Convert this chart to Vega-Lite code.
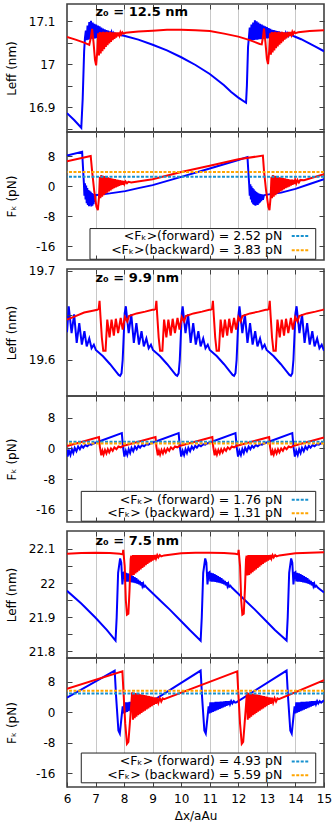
{
"$schema":"https://vega.github.io/schema/vega-lite/v6.json",
"padding":{"left":4,"top":2,"right":4,"bottom":2},
"datasets":{
"p1f":[{"x":6.0,"y":16.886},{"x":6.25,"y":16.870},{"x":6.5,"y":16.852},{"x":6.55,"y":16.92},{"x":6.6,"y":17.03},{"x":6.63,"y":17.062},
{"x":6.66,"y":17.078},{"x":6.69,"y":17.056},{"x":6.72,"y":17.09},{"x":6.75,"y":17.057},{"x":6.78,"y":17.098},{"x":6.81,"y":17.058},{"x":6.84,"y":17.101},{"x":6.87,"y":17.059},{"x":6.9,"y":17.097},{"x":6.93,"y":17.059},{"x":6.96,"y":17.094},{"x":6.99,"y":17.06},{"x":7.02,"y":17.092},{"x":7.05,"y":17.061},{"x":7.08,"y":17.09},{"x":7.11,"y":17.061},{"x":7.14,"y":17.088},{"x":7.17,"y":17.062},{"x":7.2,"y":17.085},{"x":7.23,"y":17.063},{"x":7.26,"y":17.083},{"x":7.29,"y":17.063},{"x":7.32,"y":17.081},{"x":7.35,"y":17.064},{"x":7.38,"y":17.079},{"x":7.41,"y":17.065},{"x":7.44,"y":17.078},{"x":7.47,"y":17.065},{"x":7.5,"y":17.076},{"x":7.53,"y":17.066},{"x":7.56,"y":17.074},{"x":7.59,"y":17.067},{"x":7.62,"y":17.072},{"x":7.65,"y":17.067},{"x":7.68,"y":17.071},{"x":7.71,"y":17.068},{"x":7.75,"y":17.069},
{"x":7.85,"y":17.068},{"x":8.0,"y":17.066},{"x":8.5,"y":17.057},{"x":9.0,"y":17.045},{"x":9.5,"y":17.032},{"x":10.0,"y":17.016},{"x":10.5,"y":16.998},{"x":11.0,"y":16.977},{"x":11.5,"y":16.951},{"x":11.75,"y":16.935},{"x":12.0,"y":16.922},{"x":12.27,"y":16.91},{"x":12.3,"y":16.95},{"x":12.34,"y":17.04},{"x":12.37,"y":17.062},
{"x":12.4,"y":17.085},{"x":12.43,"y":17.055},{"x":12.46,"y":17.092},{"x":12.49,"y":17.056},{"x":12.52,"y":17.097},{"x":12.55,"y":17.056},{"x":12.58,"y":17.102},{"x":12.61,"y":17.057},{"x":12.64,"y":17.1},{"x":12.67,"y":17.057},{"x":12.7,"y":17.097},{"x":12.73,"y":17.058},{"x":12.76,"y":17.094},{"x":12.79,"y":17.058},{"x":12.82,"y":17.092},{"x":12.85,"y":17.059},{"x":12.88,"y":17.09},{"x":12.91,"y":17.059},{"x":12.94,"y":17.088},{"x":12.97,"y":17.06},{"x":13.0,"y":17.086},{"x":13.03,"y":17.06},{"x":13.06,"y":17.084},{"x":13.09,"y":17.061},{"x":13.12,"y":17.082},{"x":13.15,"y":17.061},{"x":13.18,"y":17.08},{"x":13.21,"y":17.062},{"x":13.24,"y":17.079},{"x":13.27,"y":17.062},{"x":13.3,"y":17.078},{"x":13.33,"y":17.063},{"x":13.36,"y":17.077},{"x":13.39,"y":17.063},{"x":13.42,"y":17.076},{"x":13.45,"y":17.064},{"x":13.48,"y":17.075},{"x":13.51,"y":17.064},{"x":13.54,"y":17.074},{"x":13.57,"y":17.065},{"x":13.6,"y":17.073},{"x":13.63,"y":17.065},{"x":13.66,"y":17.072},{"x":13.69,"y":17.066},{"x":13.72,"y":17.071},{"x":13.75,"y":17.066},{"x":13.78,"y":17.07},{"x":13.81,"y":17.067},{"x":13.85,"y":17.068},
{"x":13.95,"y":17.065},{"x":14.2,"y":17.058},{"x":14.5,"y":17.048},{"x":14.75,"y":17.039},{"x":15.0,"y":17.03}],
"p1b":[{"x":6.0,"y":17.063},{"x":6.3,"y":17.057},{"x":6.6,"y":17.05},{"x":6.78,"y":17.045},{"x":6.83,"y":17.06},{"x":6.88,"y":17.082},{"x":6.93,"y":17.05},{"x":6.98,"y":17.01},{"x":7.02,"y":16.997},{"x":7.06,"y":17.03},{"x":7.09,"y":17.072},
{"x":7.12,"y":17.02},{"x":7.15,"y":17.075},{"x":7.18,"y":17.025},{"x":7.21,"y":17.074},{"x":7.24,"y":17.03},{"x":7.27,"y":17.075},{"x":7.3,"y":17.035},{"x":7.33,"y":17.074},{"x":7.36,"y":17.04},{"x":7.39,"y":17.075},{"x":7.42,"y":17.044},{"x":7.45,"y":17.074},{"x":7.48,"y":17.048},{"x":7.51,"y":17.075},{"x":7.54,"y":17.052},{"x":7.57,"y":17.074},{"x":7.6,"y":17.056},{"x":7.63,"y":17.074},{"x":7.66,"y":17.059},{"x":7.69,"y":17.074},{"x":7.72,"y":17.062},{"x":7.75,"y":17.074},{"x":7.78,"y":17.065},{"x":7.81,"y":17.074},{"x":7.84,"y":17.067},{"x":7.87,"y":17.074},{"x":7.9,"y":17.069},{"x":7.94,"y":17.074},{"x":7.98,"y":17.071},
{"x":8.05,"y":17.073},{"x":8.5,"y":17.076},{"x":9.0,"y":17.078},{"x":9.5,"y":17.08},{"x":10.0,"y":17.08},{"x":10.5,"y":17.079},{"x":11.0,"y":17.077},{"x":11.5,"y":17.071},{"x":12.0,"y":17.064},{"x":12.4,"y":17.056},{"x":12.75,"y":17.047},{"x":12.82,"y":17.046},{"x":12.86,"y":17.062},{"x":12.9,"y":17.083},{"x":12.95,"y":17.05},{"x":13.0,"y":17.012},{"x":13.04,"y":17.0},{"x":13.08,"y":17.03},{"x":13.11,"y":17.072},
{"x":13.14,"y":17.022},{"x":13.17,"y":17.075},{"x":13.2,"y":17.027},{"x":13.23,"y":17.074},{"x":13.26,"y":17.032},{"x":13.29,"y":17.075},{"x":13.32,"y":17.037},{"x":13.35,"y":17.074},{"x":13.38,"y":17.041},{"x":13.41,"y":17.075},{"x":13.44,"y":17.045},{"x":13.47,"y":17.074},{"x":13.5,"y":17.049},{"x":13.53,"y":17.075},{"x":13.56,"y":17.053},{"x":13.59,"y":17.074},{"x":13.62,"y":17.057},{"x":13.65,"y":17.074},{"x":13.68,"y":17.06},{"x":13.71,"y":17.074},{"x":13.74,"y":17.063},{"x":13.77,"y":17.075},{"x":13.8,"y":17.066},{"x":13.83,"y":17.075},{"x":13.86,"y":17.068},{"x":13.89,"y":17.075},{"x":13.92,"y":17.07},{"x":13.96,"y":17.075},{"x":14.0,"y":17.072},
{"x":14.1,"y":17.074},{"x":14.5,"y":17.077},{"x":15.0,"y":17.079}],
"p2f":[{"x":6.0,"y":8.2},{"x":6.53,"y":9.2},{"x":6.56,"y":5.0},{"x":6.59,"y":1.0},
{"x":6.61,"y":-2.5},{"x":6.63,"y":0.8},{"x":6.65,"y":-3.5},{"x":6.67,"y":0.2},{"x":6.69,"y":-4.5},{"x":6.71,"y":-0.5},{"x":6.73,"y":-5.0},{"x":6.75,"y":-1.0},{"x":6.77,"y":-5.3},{"x":6.79,"y":-1.2},{"x":6.81,"y":-5.0},{"x":6.83,"y":-1.5},{"x":6.85,"y":-5.4},{"x":6.87,"y":-1.8},{"x":6.89,"y":-5.2},{"x":6.91,"y":-2.0},{"x":6.93,"y":-4.8},{"x":6.95,"y":-2.2},{"x":6.97,"y":-4.2},{"x":7.0,"y":-2.3},
{"x":7.05,"y":-2.3},{"x":7.5,"y":-1.9},{"x":8.04,"y":-1.3},{"x":8.5,"y":-0.5},{"x":9.0,"y":0.3},{"x":10.0,"y":2.5},{"x":11.0,"y":4.75},{"x":12.0,"y":7.0},{"x":12.32,"y":7.8},{"x":12.35,"y":4.0},{"x":12.38,"y":0.5},
{"x":12.4,"y":-2.5},{"x":12.42,"y":0.5},{"x":12.44,"y":-3.5},{"x":12.46,"y":0.0},{"x":12.48,"y":-4.3},{"x":12.5,"y":-0.5},{"x":12.52,"y":-4.8},{"x":12.54,"y":-0.8},{"x":12.56,"y":-5.0},{"x":12.58,"y":-1.2},{"x":12.6,"y":-5.2},{"x":12.62,"y":-1.5},{"x":12.64,"y":-4.9},{"x":12.66,"y":-1.7},{"x":12.68,"y":-5.0},{"x":12.7,"y":-1.9},{"x":12.72,"y":-4.6},{"x":12.74,"y":-2.0},{"x":12.76,"y":-4.3},{"x":12.78,"y":-2.1},{"x":12.8,"y":-4.0},{"x":12.83,"y":-2.2},{"x":12.86,"y":-3.6},{"x":12.9,"y":-2.4},
{"x":12.95,"y":-2.3},{"x":13.5,"y":-1.7},{"x":14.0,"y":-0.7},{"x":14.5,"y":0.6},{"x":15.0,"y":1.9}],
"p2b":[{"x":6.0,"y":6.7},{"x":6.83,"y":8.1},{"x":6.88,"y":4.0},{"x":6.95,"y":-1.0},{"x":7.03,"y":-5.5},{"x":7.08,"y":-6.4},{"x":7.12,"y":-3.0},{"x":7.15,"y":2.5},
{"x":7.17,"y":-3.2},{"x":7.2,"y":3.0},{"x":7.23,"y":-2.8},{"x":7.26,"y":2.8},{"x":7.29,"y":-2.4},{"x":7.32,"y":2.7},{"x":7.35,"y":-2.0},{"x":7.38,"y":2.5},{"x":7.41,"y":-1.7},{"x":7.44,"y":2.4},{"x":7.47,"y":-1.4},{"x":7.5,"y":2.2},{"x":7.53,"y":-1.1},{"x":7.56,"y":2.1},{"x":7.59,"y":-0.8},{"x":7.62,"y":2.0},{"x":7.65,"y":-0.5},{"x":7.68,"y":1.9},{"x":7.71,"y":-0.3},{"x":7.74,"y":1.8},{"x":7.77,"y":-0.1},{"x":7.8,"y":1.7},{"x":7.83,"y":0.1},{"x":7.86,"y":1.6},{"x":7.89,"y":0.3},{"x":7.92,"y":1.5},{"x":7.95,"y":0.4},{"x":7.98,"y":1.4},{"x":8.01,"y":0.6},{"x":8.05,"y":1.3},{"x":8.1,"y":0.8},{"x":8.15,"y":1.2},
{"x":8.25,"y":1.0},{"x":9.0,"y":1.9},{"x":10.0,"y":3.8},{"x":11.0,"y":5.5},{"x":12.0,"y":7.2},{"x":12.86,"y":8.2},{"x":12.9,"y":4.0},{"x":12.97,"y":-1.0},{"x":13.05,"y":-5.5},{"x":13.09,"y":-6.4},{"x":13.13,"y":-3.0},{"x":13.16,"y":2.5},
{"x":13.18,"y":-3.2},{"x":13.21,"y":3.0},{"x":13.24,"y":-2.8},{"x":13.27,"y":2.8},{"x":13.3,"y":-2.4},{"x":13.33,"y":2.7},{"x":13.36,"y":-2.0},{"x":13.39,"y":2.5},{"x":13.42,"y":-1.7},{"x":13.45,"y":2.4},{"x":13.48,"y":-1.4},{"x":13.51,"y":2.3},{"x":13.54,"y":-1.1},{"x":13.57,"y":2.2},{"x":13.6,"y":-0.8},{"x":13.63,"y":2.1},{"x":13.66,"y":-0.5},{"x":13.69,"y":2.0},{"x":13.72,"y":-0.3},{"x":13.75,"y":1.9},{"x":13.78,"y":-0.1},{"x":13.81,"y":1.8},{"x":13.84,"y":0.2},{"x":13.87,"y":1.8},{"x":13.9,"y":0.4},{"x":13.93,"y":1.7},{"x":13.96,"y":0.6},{"x":13.99,"y":1.7},{"x":14.03,"y":0.8},{"x":14.07,"y":1.7},{"x":14.12,"y":1.0},{"x":14.17,"y":1.7},
{"x":14.3,"y":1.6},{"x":15.0,"y":3.2}],
"p3f":[{"x":6.0,"y":19.631},{"x":6.03,"y":19.645},
{"x":6.06,"y":19.66},{"x":6.16,"y":19.63},{"x":6.25,"y":19.651},{"x":6.34,"y":19.619},{"x":6.43,"y":19.641},{"x":6.52,"y":19.617},{"x":6.61,"y":19.632},{"x":6.69,"y":19.615},{"x":6.78,"y":19.624},{"x":6.86,"y":19.613},{"x":6.94,"y":19.617},{"x":7.01,"y":19.611},{"x":7.26,"y":19.604},{"x":7.51,"y":19.595},{"x":7.71,"y":19.587},{"x":7.81,"y":19.583},{"x":7.86,"y":19.582},{"x":7.91,"y":19.585},{"x":7.95,"y":19.6},{"x":7.99,"y":19.63},{"x":8.02,"y":19.652},
{"x":8.06,"y":19.66},{"x":8.16,"y":19.63},{"x":8.25,"y":19.651},{"x":8.34,"y":19.619},{"x":8.43,"y":19.641},{"x":8.52,"y":19.617},{"x":8.61,"y":19.632},{"x":8.69,"y":19.615},{"x":8.78,"y":19.624},{"x":8.86,"y":19.613},{"x":8.94,"y":19.617},{"x":9.01,"y":19.611},{"x":9.26,"y":19.604},{"x":9.51,"y":19.595},{"x":9.71,"y":19.587},{"x":9.81,"y":19.583},{"x":9.86,"y":19.582},{"x":9.91,"y":19.585},{"x":9.95,"y":19.6},{"x":9.99,"y":19.63},{"x":10.02,"y":19.652},
{"x":10.05,"y":19.66},{"x":10.15,"y":19.63},{"x":10.24,"y":19.651},{"x":10.33,"y":19.619},{"x":10.42,"y":19.641},{"x":10.51,"y":19.617},{"x":10.6,"y":19.632},{"x":10.68,"y":19.615},{"x":10.77,"y":19.624},{"x":10.85,"y":19.613},{"x":10.93,"y":19.617},{"x":11.0,"y":19.611},{"x":11.25,"y":19.604},{"x":11.5,"y":19.595},{"x":11.7,"y":19.587},{"x":11.8,"y":19.583},{"x":11.85,"y":19.582},{"x":11.9,"y":19.585},{"x":11.94,"y":19.6},{"x":11.98,"y":19.63},{"x":12.01,"y":19.652},
{"x":12.04,"y":19.66},{"x":12.14,"y":19.63},{"x":12.23,"y":19.651},{"x":12.32,"y":19.619},{"x":12.41,"y":19.641},{"x":12.5,"y":19.617},{"x":12.59,"y":19.632},{"x":12.67,"y":19.615},{"x":12.76,"y":19.624},{"x":12.84,"y":19.613},{"x":12.92,"y":19.617},{"x":12.99,"y":19.611},{"x":13.24,"y":19.604},{"x":13.49,"y":19.595},{"x":13.69,"y":19.587},{"x":13.79,"y":19.583},{"x":13.84,"y":19.582},{"x":13.89,"y":19.585},{"x":13.93,"y":19.6},{"x":13.97,"y":19.63},{"x":14.0,"y":19.652},
{"x":14.04,"y":19.66},{"x":14.14,"y":19.63},{"x":14.23,"y":19.651},{"x":14.32,"y":19.619},{"x":14.41,"y":19.641},{"x":14.5,"y":19.617},{"x":14.59,"y":19.632},{"x":14.67,"y":19.615},{"x":14.76,"y":19.624},{"x":14.84,"y":19.613},{"x":14.92,"y":19.617},{"x":14.99,"y":19.611},{"x":15.0,"y":19.611}],
"p3b":[{"x":6.0,"y":19.645},{"x":6.3,"y":19.649},{"x":6.6,"y":19.653},{"x":6.9,"y":19.655},
{"x":7.06,"y":19.656},{"x":7.11,"y":19.657},{"x":7.14,"y":19.666},{"x":7.17,"y":19.65},{"x":7.22,"y":19.625},{"x":7.27,"y":19.61},{"x":7.35,"y":19.61},{"x":7.41,"y":19.645},{"x":7.49,"y":19.625},{"x":7.56,"y":19.645},{"x":7.64,"y":19.627},{"x":7.71,"y":19.646},{"x":7.79,"y":19.63},{"x":7.88,"y":19.647},{"x":7.95,"y":19.634},{"x":8.03,"y":19.648},{"x":8.11,"y":19.643},{"x":8.17,"y":19.649},{"x":8.44,"y":19.652},{"x":8.74,"y":19.654},{"x":8.99,"y":19.656},
{"x":9.05,"y":19.656},{"x":9.1,"y":19.657},{"x":9.13,"y":19.666},{"x":9.16,"y":19.65},{"x":9.21,"y":19.625},{"x":9.26,"y":19.61},{"x":9.34,"y":19.61},{"x":9.4,"y":19.645},{"x":9.48,"y":19.625},{"x":9.55,"y":19.645},{"x":9.63,"y":19.627},{"x":9.7,"y":19.646},{"x":9.78,"y":19.63},{"x":9.87,"y":19.647},{"x":9.94,"y":19.634},{"x":10.02,"y":19.648},{"x":10.1,"y":19.643},{"x":10.16,"y":19.649},{"x":10.43,"y":19.652},{"x":10.73,"y":19.654},{"x":10.98,"y":19.656},
{"x":11.03,"y":19.656},{"x":11.08,"y":19.657},{"x":11.11,"y":19.666},{"x":11.14,"y":19.65},{"x":11.19,"y":19.625},{"x":11.24,"y":19.61},{"x":11.32,"y":19.61},{"x":11.38,"y":19.645},{"x":11.46,"y":19.625},{"x":11.53,"y":19.645},{"x":11.61,"y":19.627},{"x":11.68,"y":19.646},{"x":11.76,"y":19.63},{"x":11.85,"y":19.647},{"x":11.92,"y":19.634},{"x":12.0,"y":19.648},{"x":12.08,"y":19.643},{"x":12.14,"y":19.649},{"x":12.41,"y":19.652},{"x":12.71,"y":19.654},{"x":12.96,"y":19.656},
{"x":13.02,"y":19.656},{"x":13.07,"y":19.657},{"x":13.1,"y":19.666},{"x":13.13,"y":19.65},{"x":13.18,"y":19.625},{"x":13.23,"y":19.61},{"x":13.31,"y":19.61},{"x":13.37,"y":19.645},{"x":13.45,"y":19.625},{"x":13.52,"y":19.645},{"x":13.6,"y":19.627},{"x":13.67,"y":19.646},{"x":13.75,"y":19.63},{"x":13.84,"y":19.647},{"x":13.91,"y":19.634},{"x":13.99,"y":19.648},{"x":14.07,"y":19.643},{"x":14.13,"y":19.649},{"x":14.4,"y":19.652},{"x":14.7,"y":19.654},{"x":14.95,"y":19.656},{"x":15.0,"y":19.6565}],
"p4f":[{"x":6.0,"y":-0.4},{"x":6.02,"y":-2.1},{"x":6.07,"y":-0.6},{"x":6.12,"y":-1.7},{"x":6.17,"y":-0.2},{"x":6.22,"y":-1.2},{"x":6.27,"y":0.2},{"x":6.33,"y":-0.7},{"x":6.39,"y":0.5},{"x":6.45,"y":-0.2},{"x":6.51,"y":0.7},{"x":6.57,"y":0.2},{"x":6.64,"y":0.9},{"x":6.71,"y":0.6},{"x":6.79,"y":1.1},{"x":6.86,"y":1.0},{"x":6.93,"y":1.3},
{"x":7.92,"y":4.0},{"x":7.96,"y":0.5},{"x":8.01,"y":-2.1},{"x":8.06,"y":-0.6},{"x":8.11,"y":-1.7},{"x":8.16,"y":-0.2},{"x":8.21,"y":-1.2},{"x":8.26,"y":0.2},{"x":8.32,"y":-0.7},{"x":8.38,"y":0.5},{"x":8.44,"y":-0.2},{"x":8.5,"y":0.7},{"x":8.56,"y":0.2},{"x":8.63,"y":0.9},{"x":8.7,"y":0.6},{"x":8.78,"y":1.1},{"x":8.85,"y":1.0},{"x":8.92,"y":1.3},
{"x":9.91,"y":4.0},{"x":9.95,"y":0.5},{"x":10.0,"y":-2.1},{"x":10.05,"y":-0.6},{"x":10.1,"y":-1.7},{"x":10.15,"y":-0.2},{"x":10.2,"y":-1.2},{"x":10.25,"y":0.2},{"x":10.31,"y":-0.7},{"x":10.37,"y":0.5},{"x":10.43,"y":-0.2},{"x":10.49,"y":0.7},{"x":10.55,"y":0.2},{"x":10.62,"y":0.9},{"x":10.69,"y":0.6},{"x":10.77,"y":1.1},{"x":10.84,"y":1.0},{"x":10.91,"y":1.3},
{"x":11.9,"y":4.0},{"x":11.94,"y":0.5},{"x":11.99,"y":-2.1},{"x":12.04,"y":-0.6},{"x":12.09,"y":-1.7},{"x":12.14,"y":-0.2},{"x":12.19,"y":-1.2},{"x":12.24,"y":0.2},{"x":12.3,"y":-0.7},{"x":12.36,"y":0.5},{"x":12.42,"y":-0.2},{"x":12.48,"y":0.7},{"x":12.54,"y":0.2},{"x":12.61,"y":0.9},{"x":12.68,"y":0.6},{"x":12.76,"y":1.1},{"x":12.83,"y":1.0},{"x":12.9,"y":1.3},
{"x":13.89,"y":4.0},{"x":13.93,"y":0.5},{"x":13.98,"y":-2.1},{"x":14.03,"y":-0.6},{"x":14.08,"y":-1.7},{"x":14.13,"y":-0.2},{"x":14.18,"y":-1.2},{"x":14.23,"y":0.2},{"x":14.29,"y":-0.7},{"x":14.35,"y":0.5},{"x":14.41,"y":-0.2},{"x":14.47,"y":0.7},{"x":14.53,"y":0.2},{"x":14.6,"y":0.9},{"x":14.67,"y":0.6},{"x":14.75,"y":1.1},{"x":14.82,"y":1.0},{"x":14.89,"y":1.3},{"x":15.0,"y":1.6}],
"p4b":[{"x":6.0,"y":0.65},
{"x":7.12,"y":3.0},{"x":7.15,"y":0.5},{"x":7.2,"y":-1.8},{"x":7.24,"y":-0.6},{"x":7.28,"y":-1.6},{"x":7.33,"y":-0.4},{"x":7.38,"y":-1.3},{"x":7.43,"y":-0.2},{"x":7.48,"y":-1.0},{"x":7.54,"y":0.0},{"x":7.6,"y":-0.6},{"x":7.66,"y":0.3},{"x":7.73,"y":-0.2},{"x":7.8,"y":0.5},{"x":7.88,"y":0.3},{"x":7.97,"y":0.7},{"x":8.05,"y":0.85},
{"x":9.1,"y":3.0},{"x":9.13,"y":0.5},{"x":9.18,"y":-1.8},{"x":9.22,"y":-0.6},{"x":9.26,"y":-1.6},{"x":9.31,"y":-0.4},{"x":9.36,"y":-1.3},{"x":9.41,"y":-0.2},{"x":9.46,"y":-1.0},{"x":9.52,"y":0.0},{"x":9.58,"y":-0.6},{"x":9.64,"y":0.3},{"x":9.71,"y":-0.2},{"x":9.78,"y":0.5},{"x":9.86,"y":0.3},{"x":9.95,"y":0.7},{"x":10.03,"y":0.85},
{"x":11.09,"y":3.0},{"x":11.12,"y":0.5},{"x":11.17,"y":-1.8},{"x":11.21,"y":-0.6},{"x":11.25,"y":-1.6},{"x":11.3,"y":-0.4},{"x":11.35,"y":-1.3},{"x":11.4,"y":-0.2},{"x":11.45,"y":-1.0},{"x":11.51,"y":0.0},{"x":11.57,"y":-0.6},{"x":11.63,"y":0.3},{"x":11.7,"y":-0.2},{"x":11.77,"y":0.5},{"x":11.85,"y":0.3},{"x":11.94,"y":0.7},{"x":12.02,"y":0.85},
{"x":13.08,"y":3.0},{"x":13.11,"y":0.5},{"x":13.16,"y":-1.8},{"x":13.2,"y":-0.6},{"x":13.24,"y":-1.6},{"x":13.29,"y":-0.4},{"x":13.34,"y":-1.3},{"x":13.39,"y":-0.2},{"x":13.44,"y":-1.0},{"x":13.5,"y":0.0},{"x":13.56,"y":-0.6},{"x":13.62,"y":0.3},{"x":13.69,"y":-0.2},{"x":13.76,"y":0.5},{"x":13.84,"y":0.3},{"x":13.93,"y":0.7},{"x":14.01,"y":0.85},{"x":15.0,"y":2.85}],
"p5f":[{"x":6.0,"y":21.977},{"x":6.5,"y":21.94},{"x":7.0,"y":21.898},{"x":7.4,"y":21.862},
{"x":7.7,"y":21.831},{"x":7.74,"y":21.9},{"x":7.79,"y":22.03},{"x":7.86,"y":22.072},{"x":7.9,"y":22.06},{"x":7.94,"y":21.996},{"x":7.98,"y":22.03},{"x":8.01,"y":22.032},{"x":8.04,"y":22.005},{"x":8.07,"y":22.03},{"x":8.1,"y":22.004},{"x":8.13,"y":22.028},{"x":8.16,"y":22.004},{"x":8.19,"y":22.026},{"x":8.22,"y":22.003},{"x":8.25,"y":22.023},{"x":8.28,"y":22.002},{"x":8.31,"y":22.02},{"x":8.34,"y":22.001},{"x":8.37,"y":22.017},{"x":8.4,"y":22.0},{"x":8.43,"y":22.014},{"x":8.46,"y":21.998},{"x":8.49,"y":22.01},{"x":8.52,"y":21.996},{"x":8.55,"y":22.006},{"x":8.58,"y":21.993},{"x":8.61,"y":22.002},{"x":8.64,"y":21.991},{"x":8.67,"y":21.998},{"x":8.7,"y":21.989},{"x":8.74,"y":21.992},{"x":8.8,"y":21.986},{"x":9.0,"y":21.97},{"x":9.3,"y":21.946},{"x":9.6,"y":21.922},{"x":10.0,"y":21.888},{"x":10.3,"y":21.862},
{"x":10.68,"y":21.831},{"x":10.72,"y":21.9},{"x":10.77,"y":22.03},{"x":10.84,"y":22.072},{"x":10.88,"y":22.06},{"x":10.92,"y":21.996},{"x":10.96,"y":22.03},{"x":10.99,"y":22.032},{"x":11.02,"y":22.005},{"x":11.05,"y":22.03},{"x":11.08,"y":22.004},{"x":11.11,"y":22.028},{"x":11.14,"y":22.004},{"x":11.17,"y":22.026},{"x":11.2,"y":22.003},{"x":11.23,"y":22.023},{"x":11.26,"y":22.002},{"x":11.29,"y":22.02},{"x":11.32,"y":22.001},{"x":11.35,"y":22.017},{"x":11.38,"y":22.0},{"x":11.41,"y":22.014},{"x":11.44,"y":21.998},{"x":11.47,"y":22.01},{"x":11.5,"y":21.996},{"x":11.53,"y":22.006},{"x":11.56,"y":21.993},{"x":11.59,"y":22.002},{"x":11.62,"y":21.991},{"x":11.65,"y":21.998},{"x":11.68,"y":21.989},{"x":11.72,"y":21.992},{"x":11.78,"y":21.986},{"x":11.98,"y":21.97},{"x":12.28,"y":21.946},{"x":12.58,"y":21.922},{"x":12.98,"y":21.888},{"x":13.28,"y":21.862},
{"x":13.69,"y":21.831},{"x":13.73,"y":21.9},{"x":13.78,"y":22.03},{"x":13.85,"y":22.072},{"x":13.89,"y":22.06},{"x":13.93,"y":21.996},{"x":13.97,"y":22.03},{"x":14.0,"y":22.032},{"x":14.03,"y":22.005},{"x":14.06,"y":22.03},{"x":14.09,"y":22.004},{"x":14.12,"y":22.028},{"x":14.15,"y":22.004},{"x":14.18,"y":22.026},{"x":14.21,"y":22.003},{"x":14.24,"y":22.023},{"x":14.27,"y":22.002},{"x":14.3,"y":22.02},{"x":14.33,"y":22.001},{"x":14.36,"y":22.017},{"x":14.39,"y":22.0},{"x":14.42,"y":22.014},{"x":14.45,"y":21.998},{"x":14.48,"y":22.01},{"x":14.51,"y":21.996},{"x":14.54,"y":22.006},{"x":14.57,"y":21.993},{"x":14.6,"y":22.002},{"x":14.63,"y":21.991},{"x":14.66,"y":21.998},{"x":14.69,"y":21.989},{"x":14.73,"y":21.992},{"x":14.79,"y":21.986},{"x":15.0,"y":21.972}],
"p5b":[{"x":6.0,"y":22.086},{"x":6.5,"y":22.088},{"x":7.0,"y":22.089},{"x":7.5,"y":22.088},{"x":7.85,"y":22.086},{"x":7.95,"y":22.084},{"x":7.97,"y":22.097},{"x":8.02,"y":22.05},{"x":8.06,"y":21.95},{"x":8.1,"y":21.907},{"x":8.15,"y":21.91},{"x":8.19,"y":21.98},{"x":8.23,"y":22.07},
{"x":8.25,"y":22.08},{"x":8.28,"y":22.022},{"x":8.31,"y":22.082},{"x":8.34,"y":22.024},{"x":8.37,"y":22.082},{"x":8.4,"y":22.028},{"x":8.43,"y":22.082},{"x":8.46,"y":22.032},{"x":8.49,"y":22.082},{"x":8.52,"y":22.036},{"x":8.55,"y":22.082},{"x":8.58,"y":22.04},{"x":8.61,"y":22.082},{"x":8.64,"y":22.044},{"x":8.67,"y":22.082},{"x":8.7,"y":22.048},{"x":8.73,"y":22.082},{"x":8.76,"y":22.052},{"x":8.79,"y":22.082},{"x":8.82,"y":22.056},{"x":8.85,"y":22.082},{"x":8.88,"y":22.06},{"x":8.91,"y":22.082},{"x":8.94,"y":22.063},{"x":8.97,"y":22.082},{"x":9.0,"y":22.066},{"x":9.03,"y":22.082},{"x":9.06,"y":22.069},{"x":9.09,"y":22.082},{"x":9.12,"y":22.072},{"x":9.16,"y":22.082},{"x":9.2,"y":22.075},{"x":9.25,"y":22.082},{"x":9.3,"y":22.078},
{"x":9.4,"y":22.081},{"x":10.0,"y":22.087},{"x":10.5,"y":22.089},{"x":11.0,"y":22.089},{"x":11.5,"y":22.088},{"x":11.89,"y":22.086},{"x":11.99,"y":22.084},{"x":12.01,"y":22.097},{"x":12.06,"y":22.05},{"x":12.1,"y":21.95},{"x":12.14,"y":21.907},{"x":12.19,"y":21.91},{"x":12.23,"y":21.98},{"x":12.27,"y":22.07},
{"x":12.29,"y":22.08},{"x":12.32,"y":22.022},{"x":12.35,"y":22.082},{"x":12.38,"y":22.024},{"x":12.41,"y":22.082},{"x":12.44,"y":22.028},{"x":12.47,"y":22.082},{"x":12.5,"y":22.032},{"x":12.53,"y":22.082},{"x":12.56,"y":22.036},{"x":12.59,"y":22.082},{"x":12.62,"y":22.04},{"x":12.65,"y":22.082},{"x":12.68,"y":22.044},{"x":12.71,"y":22.082},{"x":12.74,"y":22.048},{"x":12.77,"y":22.082},{"x":12.8,"y":22.052},{"x":12.83,"y":22.082},{"x":12.86,"y":22.056},{"x":12.89,"y":22.082},{"x":12.92,"y":22.06},{"x":12.95,"y":22.082},{"x":12.98,"y":22.063},{"x":13.01,"y":22.082},{"x":13.04,"y":22.066},{"x":13.07,"y":22.082},{"x":13.1,"y":22.069},{"x":13.13,"y":22.082},{"x":13.16,"y":22.072},{"x":13.2,"y":22.082},{"x":13.24,"y":22.075},{"x":13.29,"y":22.082},{"x":13.34,"y":22.078},
{"x":13.44,"y":22.081},{"x":14.0,"y":22.087},{"x":14.5,"y":22.089},{"x":15.0,"y":22.09}],
"p6f":[{"x":6.0,"y":3.8},{"x":7.67,"y":10.9},{"x":7.72,"y":4.0},{"x":7.8,"y":-4.8},{"x":7.85,"y":-5.6},{"x":7.9,"y":-2.0},{"x":7.95,"y":1.5},
{"x":7.98,"y":-0.3},{"x":8.01,"y":2.6},{"x":8.04,"y":-0.1},{"x":8.07,"y":2.6},{"x":8.1,"y":0.1},{"x":8.13,"y":2.6},{"x":8.16,"y":0.3},{"x":8.19,"y":2.7},{"x":8.22,"y":0.5},{"x":8.25,"y":2.7},{"x":8.28,"y":0.7},{"x":8.31,"y":2.7},{"x":8.34,"y":0.9},{"x":8.37,"y":2.8},{"x":8.4,"y":1.1},{"x":8.43,"y":2.8},{"x":8.46,"y":1.3},{"x":8.49,"y":2.8},{"x":8.52,"y":1.5},{"x":8.55,"y":2.9},{"x":8.58,"y":1.7},{"x":8.61,"y":2.9},{"x":8.64,"y":1.9},{"x":8.67,"y":2.9},{"x":8.7,"y":2.1},{"x":8.74,"y":2.9},{"x":8.78,"y":2.3},{"x":8.83,"y":2.9},{"x":8.88,"y":2.5},
{"x":8.92,"y":2.6},{"x":10.68,"y":10.9},{"x":10.73,"y":4.0},{"x":10.81,"y":-4.8},{"x":10.86,"y":-5.6},{"x":10.91,"y":-2.0},{"x":10.96,"y":1.5},
{"x":10.99,"y":-0.3},{"x":11.02,"y":2.6},{"x":11.05,"y":-0.1},{"x":11.08,"y":2.6},{"x":11.11,"y":0.1},{"x":11.14,"y":2.6},{"x":11.17,"y":0.3},{"x":11.2,"y":2.7},{"x":11.23,"y":0.5},{"x":11.26,"y":2.7},{"x":11.29,"y":0.7},{"x":11.32,"y":2.7},{"x":11.35,"y":0.9},{"x":11.38,"y":2.8},{"x":11.41,"y":1.1},{"x":11.44,"y":2.8},{"x":11.47,"y":1.3},{"x":11.5,"y":2.8},{"x":11.53,"y":1.5},{"x":11.56,"y":2.9},{"x":11.59,"y":1.7},{"x":11.62,"y":2.9},{"x":11.65,"y":1.9},{"x":11.68,"y":2.9},{"x":11.71,"y":2.1},{"x":11.75,"y":2.9},{"x":11.79,"y":2.3},{"x":11.84,"y":2.9},{"x":11.89,"y":2.5},
{"x":11.93,"y":2.6},{"x":13.69,"y":10.9},{"x":13.74,"y":4.0},{"x":13.82,"y":-4.8},{"x":13.87,"y":-5.6},{"x":13.92,"y":-2.0},{"x":13.97,"y":1.5},
{"x":14.0,"y":-0.3},{"x":14.03,"y":2.6},{"x":14.06,"y":-0.1},{"x":14.09,"y":2.6},{"x":14.12,"y":0.1},{"x":14.15,"y":2.6},{"x":14.18,"y":0.3},{"x":14.21,"y":2.7},{"x":14.24,"y":0.5},{"x":14.27,"y":2.7},{"x":14.3,"y":0.7},{"x":14.33,"y":2.7},{"x":14.36,"y":0.9},{"x":14.39,"y":2.8},{"x":14.42,"y":1.1},{"x":14.45,"y":2.8},{"x":14.48,"y":1.3},{"x":14.51,"y":2.8},{"x":14.54,"y":1.5},{"x":14.57,"y":2.9},{"x":14.6,"y":1.7},{"x":14.63,"y":2.9},{"x":14.66,"y":1.9},{"x":14.69,"y":2.9},{"x":14.72,"y":2.1},{"x":14.76,"y":2.9},{"x":14.8,"y":2.3},{"x":14.85,"y":2.9},{"x":14.9,"y":2.5},{"x":15.0,"y":3.1}],
"p6b":[{"x":6.0,"y":6.1},{"x":7.94,"y":10.7},{"x":7.98,"y":5.0},{"x":8.04,"y":-3.0},{"x":8.1,"y":-8.3},{"x":8.15,"y":-7.8},{"x":8.2,"y":-3.0},{"x":8.25,"y":2.0},
{"x":8.28,"y":5.2},{"x":8.31,"y":-2.0},{"x":8.34,"y":5.1},{"x":8.37,"y":-1.6},{"x":8.4,"y":5.0},{"x":8.43,"y":-1.2},{"x":8.46,"y":4.9},{"x":8.49,"y":-0.8},{"x":8.52,"y":4.8},{"x":8.55,"y":-0.5},{"x":8.58,"y":4.7},{"x":8.61,"y":-0.2},{"x":8.64,"y":4.6},{"x":8.67,"y":0.1},{"x":8.7,"y":4.5},{"x":8.73,"y":0.4},{"x":8.76,"y":4.4},{"x":8.79,"y":0.7},{"x":8.82,"y":4.3},{"x":8.85,"y":1.0},{"x":8.88,"y":4.2},{"x":8.91,"y":1.3},{"x":8.94,"y":4.1},{"x":8.97,"y":1.6},{"x":9.0,"y":4.0},{"x":9.04,"y":1.9},{"x":9.08,"y":3.9},{"x":9.12,"y":2.2},{"x":9.16,"y":3.8},{"x":9.2,"y":2.5},{"x":9.25,"y":3.7},{"x":9.3,"y":2.8},{"x":9.35,"y":3.6},
{"x":9.4,"y":3.4},{"x":11.96,"y":10.7},{"x":12.0,"y":5.0},{"x":12.06,"y":-3.0},{"x":12.12,"y":-8.3},{"x":12.17,"y":-7.8},{"x":12.22,"y":-3.0},{"x":12.27,"y":2.0},
{"x":12.3,"y":5.2},{"x":12.33,"y":-2.0},{"x":12.36,"y":5.1},{"x":12.39,"y":-1.6},{"x":12.42,"y":5.0},{"x":12.45,"y":-1.2},{"x":12.48,"y":4.9},{"x":12.51,"y":-0.8},{"x":12.54,"y":4.8},{"x":12.57,"y":-0.5},{"x":12.6,"y":4.7},{"x":12.63,"y":-0.2},{"x":12.66,"y":4.6},{"x":12.69,"y":0.1},{"x":12.72,"y":4.5},{"x":12.75,"y":0.4},{"x":12.78,"y":4.4},{"x":12.81,"y":0.7},{"x":12.84,"y":4.3},{"x":12.87,"y":1.0},{"x":12.9,"y":4.2},{"x":12.93,"y":1.3},{"x":12.96,"y":4.1},{"x":12.99,"y":1.6},{"x":13.02,"y":4.0},{"x":13.06,"y":1.9},{"x":13.1,"y":3.9},{"x":13.14,"y":2.2},{"x":13.18,"y":3.8},{"x":13.22,"y":2.5},{"x":13.27,"y":3.7},{"x":13.32,"y":2.8},{"x":13.37,"y":3.6},
{"x":13.42,"y":3.4},{"x":15.0,"y":8.4}]
},
"spacing":0,
"bounds":"flush",
"vconcat":[
{"width":257,"height":128,
"layer":[
{"data":{"name":"p1f"},"mark":{"type":"line","color":"#0000ff","strokeWidth":2,"clip":true},
"encoding":{"x":{"field":"x","type":"quantitative","scale":{"domain":[6,15],"nice":false,"zero":false},"axis":{"orient":"bottom","values":[7,8,9,10,11,12,13,14],"labels":false,"title":null,"zindex":1}},
"y":{"field":"y","type":"quantitative","scale":{"domain":[16.842,17.14],"nice":false,"zero":false},"axis":{"orient":"left","values":[16.85,16.9,16.95,17,17.05,17.1],"labelExpr":"abs(datum.value*10 - round(datum.value*10)) < 0.01 ? '' + datum.value : ''","labelPadding":17,"minExtent":40,"maxExtent":40,"title":"Leff (nm)","titlePadding":9,"zindex":1}}}},
{"data":{"name":"p1b"},"mark":{"type":"line","color":"#ff0000","strokeWidth":2,"clip":true},
"encoding":{"x":{"field":"x","type":"quantitative","axis":{"orient":"top","values":[7,8,9,10,11,12,13,14],"labels":false,"title":null,"grid":true,"gridColor":"#c8c8c8","gridWidth":1,"zindex":0}},
"y":{"field":"y","type":"quantitative","axis":{"orient":"right","values":[16.85,16.9,16.95,17,17.05,17.1],"labels":false,"title":null,"zindex":1}}}},
{"data":{"values":[{}]},"mark":{"type":"text","align":"left","baseline":"middle","fontSize":13,"fontWeight":"bold","color":"#000"},
"encoding":{"x":{"datum":7,"type":"quantitative","axis":null},"y":{"datum":17.121,"type":"quantitative","axis":null},"text":{"value":"z₀ = 12.5 nm"}}}
],
"resolve":{"axis":{"x":"independent","y":"independent"}}},
{"width":257,"height":128,
"layer":[
{"data":{"name":"p2f"},"mark":{"type":"line","color":"#0000ff","strokeWidth":2,"clip":true},
"encoding":{"x":{"field":"x","type":"quantitative","scale":{"domain":[6,15],"nice":false,"zero":false},"axis":{"orient":"bottom","values":[7,8,9,10,11,12,13,14],"labels":false,"title":null,"zindex":1}},
"y":{"field":"y","type":"quantitative","scale":{"domain":[-19.7,14.5],"nice":false,"zero":false},"axis":{"orient":"left","values":[-16,-8,0,8],"labelExpr":"'' + datum.value","labelPadding":17,"minExtent":40,"maxExtent":40,"title":"Fₖ (pN)","titlePadding":9,"zindex":1}}}},
{"data":{"name":"p2b"},"mark":{"type":"line","color":"#ff0000","strokeWidth":2,"clip":true},
"encoding":{"x":{"field":"x","type":"quantitative","axis":{"orient":"top","values":[7,8,9,10,11,12,13,14],"labels":false,"title":null,"grid":true,"gridColor":"#c8c8c8","gridWidth":1,"zindex":0}},
"y":{"field":"y","type":"quantitative","axis":{"orient":"right","values":[-16,-8,0,8],"labels":false,"title":null,"zindex":1}}}},
{"data":{"values":[{}]},"mark":{"type":"rule","color":"#1791cf","strokeWidth":2,"strokeDash":[3,1.5]},"encoding":{"y":{"datum":2.52,"type":"quantitative","axis":null}}},
{"data":{"values":[{}]},"mark":{"type":"rule","color":"#ffa500","strokeWidth":2,"strokeDash":[3,1.5]},"encoding":{"y":{"datum":3.83,"type":"quantitative","axis":null}}},
{"data":{"values":[{}]},"mark":{"type":"rect","fill":"#ffffff","stroke":"#222222","strokeWidth":1},"encoding":{"x":{"datum":6.805,"type":"quantitative","axis":null},"x2":{"datum":14.71},"y":{"datum":-11.3,"type":"quantitative","axis":null},"y2":{"datum":-19.5}}},
{"data":{"values":[{}]},"mark":{"type":"text","align":"right","baseline":"middle","fontSize":12.5,"color":"#000"},"encoding":{"x":{"datum":13.54,"type":"quantitative","axis":null},"y":{"datum":-13.3,"type":"quantitative","axis":null},"text":{"value":"<Fₖ>(forward) = 2.52 pN"}}},
{"data":{"values":[{}]},"mark":{"type":"text","align":"right","baseline":"middle","fontSize":12.5,"color":"#000"},"encoding":{"x":{"datum":13.54,"type":"quantitative","axis":null},"y":{"datum":-17.1,"type":"quantitative","axis":null},"text":{"value":"<Fₖ>(backward) = 3.83 pN"}}},
{"data":{"values":[{}]},"mark":{"type":"rule","color":"#1791cf","strokeWidth":2,"strokeDash":[3,1.5]},"encoding":{"x":{"datum":13.87,"type":"quantitative","axis":null},"x2":{"datum":14.47},"y":{"datum":-13.3,"type":"quantitative","axis":null}}},
{"data":{"values":[{}]},"mark":{"type":"rule","color":"#ffa500","strokeWidth":2,"strokeDash":[3,1.5]},"encoding":{"x":{"datum":13.87,"type":"quantitative","axis":null},"x2":{"datum":14.47},"y":{"datum":-17.1,"type":"quantitative","axis":null}}}
],
"resolve":{"axis":{"x":"independent","y":"independent"}}},
{"width":257,"height":9,"view":{"stroke":null},"data":{"values":[{}]},"mark":{"type":"text","text":""},"encoding":{}},
{"width":257,"height":127,
"layer":[
{"data":{"name":"p3f"},"mark":{"type":"line","color":"#0000ff","strokeWidth":2,"clip":true},
"encoding":{"x":{"field":"x","type":"quantitative","scale":{"domain":[6,15],"nice":false,"zero":false},"axis":{"orient":"bottom","values":[7,8,9,10,11,12,13,14],"labels":false,"title":null,"zindex":1}},
"y":{"field":"y","type":"quantitative","scale":{"domain":[19.5594,19.7018],"nice":false,"zero":false},"axis":{"orient":"left","values":[19.6,19.65,19.7],"labelExpr":"abs(datum.value*10 - round(datum.value*10)) < 0.01 ? '' + datum.value : ''","labelPadding":17,"minExtent":40,"maxExtent":40,"title":"Leff (nm)","titlePadding":9,"zindex":1}}}},
{"data":{"name":"p3b"},"mark":{"type":"line","color":"#ff0000","strokeWidth":2,"clip":true},
"encoding":{"x":{"field":"x","type":"quantitative","axis":{"orient":"top","values":[7,8,9,10,11,12,13,14],"labels":false,"title":null,"grid":true,"gridColor":"#c8c8c8","gridWidth":1,"zindex":0}},
"y":{"field":"y","type":"quantitative","axis":{"orient":"right","values":[19.6,19.65,19.7],"labels":false,"title":null,"zindex":1}}}},
{"data":{"values":[{}]},"mark":{"type":"text","align":"left","baseline":"middle","fontSize":13,"fontWeight":"bold","color":"#000"},
"encoding":{"x":{"datum":7,"type":"quantitative","axis":null},"y":{"datum":19.692,"type":"quantitative","axis":null},"text":{"value":"z₀ = 9.9 nm"}}}
],
"resolve":{"axis":{"x":"independent","y":"independent"}}},
{"width":257,"height":126,
"layer":[
{"data":{"name":"p4f"},"mark":{"type":"line","color":"#0000ff","strokeWidth":2,"clip":true},
"encoding":{"x":{"field":"x","type":"quantitative","scale":{"domain":[6,15],"nice":false,"zero":false},"axis":{"orient":"bottom","values":[7,8,9,10,11,12,13,14],"labels":false,"title":null,"zindex":1}},
"y":{"field":"y","type":"quantitative","scale":{"domain":[-19.2,13.7],"nice":false,"zero":false},"axis":{"orient":"left","values":[-16,-8,0,8],"labelExpr":"'' + datum.value","labelPadding":17,"minExtent":40,"maxExtent":40,"title":"Fₖ (pN)","titlePadding":9,"zindex":1}}}},
{"data":{"name":"p4b"},"mark":{"type":"line","color":"#ff0000","strokeWidth":2,"clip":true},
"encoding":{"x":{"field":"x","type":"quantitative","axis":{"orient":"top","values":[7,8,9,10,11,12,13,14],"labels":false,"title":null,"grid":true,"gridColor":"#c8c8c8","gridWidth":1,"zindex":0}},
"y":{"field":"y","type":"quantitative","axis":{"orient":"right","values":[-16,-8,0,8],"labels":false,"title":null,"zindex":1}}}},
{"data":{"values":[{}]},"mark":{"type":"rule","color":"#1791cf","strokeWidth":2,"strokeDash":[3,1.5]},"encoding":{"y":{"datum":1.76,"type":"quantitative","axis":null}}},
{"data":{"values":[{}]},"mark":{"type":"rule","color":"#ffa500","strokeWidth":2,"strokeDash":[3,1.5]},"encoding":{"y":{"datum":1.31,"type":"quantitative","axis":null}}},
{"data":{"values":[{}]},"mark":{"type":"rect","fill":"#ffffff","stroke":"#222222","strokeWidth":1},"encoding":{"x":{"datum":6.5,"type":"quantitative","axis":null},"x2":{"datum":14.71},"y":{"datum":-11.2,"type":"quantitative","axis":null},"y2":{"datum":-19.0}}},
{"data":{"values":[{}]},"mark":{"type":"text","align":"right","baseline":"middle","fontSize":12.5,"color":"#000"},"encoding":{"x":{"datum":13.54,"type":"quantitative","axis":null},"y":{"datum":-13.4,"type":"quantitative","axis":null},"text":{"value":"<Fₖ> (forward) = 1.76 pN"}}},
{"data":{"values":[{}]},"mark":{"type":"text","align":"right","baseline":"middle","fontSize":12.5,"color":"#000"},"encoding":{"x":{"datum":13.54,"type":"quantitative","axis":null},"y":{"datum":-16.9,"type":"quantitative","axis":null},"text":{"value":"<Fₖ> (backward) = 1.31 pN"}}},
{"data":{"values":[{}]},"mark":{"type":"rule","color":"#1791cf","strokeWidth":2,"strokeDash":[3,1.5]},"encoding":{"x":{"datum":13.87,"type":"quantitative","axis":null},"x2":{"datum":14.47},"y":{"datum":-13.4,"type":"quantitative","axis":null}}},
{"data":{"values":[{}]},"mark":{"type":"rule","color":"#ffa500","strokeWidth":2,"strokeDash":[3,1.5]},"encoding":{"x":{"datum":13.87,"type":"quantitative","axis":null},"x2":{"datum":14.47},"y":{"datum":-16.9,"type":"quantitative","axis":null}}}
],
"resolve":{"axis":{"x":"independent","y":"independent"}}},
{"width":257,"height":9,"view":{"stroke":null},"data":{"values":[{}]},"mark":{"type":"text","text":""},"encoding":{}},
{"width":257,"height":127,
"layer":[
{"data":{"name":"p5f"},"mark":{"type":"line","color":"#0000ff","strokeWidth":2,"clip":true},
"encoding":{"x":{"field":"x","type":"quantitative","scale":{"domain":[6,15],"nice":false,"zero":false},"axis":{"orient":"bottom","values":[7,8,9,10,11,12,13,14],"labels":false,"title":null,"zindex":1}},
"y":{"field":"y","type":"quantitative","scale":{"domain":[21.78,22.1526],"nice":false,"zero":false},"axis":{"orient":"left","values":[21.8,21.85,21.9,21.95,22,22.05,22.1],"labelExpr":"abs(datum.value*10 - round(datum.value*10)) < 0.01 ? '' + datum.value : ''","labelPadding":17,"minExtent":40,"maxExtent":40,"title":"Leff (nm)","titlePadding":9,"zindex":1}}}},
{"data":{"name":"p5b"},"mark":{"type":"line","color":"#ff0000","strokeWidth":2,"clip":true},
"encoding":{"x":{"field":"x","type":"quantitative","axis":{"orient":"top","values":[7,8,9,10,11,12,13,14],"labels":false,"title":null,"grid":true,"gridColor":"#c8c8c8","gridWidth":1,"zindex":0}},
"y":{"field":"y","type":"quantitative","axis":{"orient":"right","values":[21.8,21.85,21.9,21.95,22,22.05,22.1],"labels":false,"title":null,"zindex":1}}}},
{"data":{"values":[{}]},"mark":{"type":"text","align":"left","baseline":"middle","fontSize":13,"fontWeight":"bold","color":"#000"},
"encoding":{"x":{"datum":7,"type":"quantitative","axis":null},"y":{"datum":22.124,"type":"quantitative","axis":null},"text":{"value":"z₀ = 7.5 nm"}}}
],
"resolve":{"axis":{"x":"independent","y":"independent"}}},
{"width":257,"height":129,
"layer":[
{"data":{"name":"p6f"},"mark":{"type":"line","color":"#0000ff","strokeWidth":2,"clip":true},
"encoding":{"x":{"field":"x","type":"quantitative","scale":{"domain":[6,15],"nice":false,"zero":false},"axis":{"orient":"bottom","values":[6,7,8,9,10,11,12,13,14,15],"labelExpr":"'' + datum.value","labelPadding":11,"title":"Δx/aAu","titlePadding":6,"zindex":1}},
"y":{"field":"y","type":"quantitative","scale":{"domain":[-19.6,14.2],"nice":false,"zero":false},"axis":{"orient":"left","values":[-16,-8,0,8],"labelExpr":"'' + datum.value","labelPadding":17,"minExtent":40,"maxExtent":40,"title":"Fₖ (pN)","titlePadding":9,"zindex":1}}}},
{"data":{"name":"p6b"},"mark":{"type":"line","color":"#ff0000","strokeWidth":2,"clip":true},
"encoding":{"x":{"field":"x","type":"quantitative","axis":{"orient":"top","values":[7,8,9,10,11,12,13,14],"labels":false,"title":null,"grid":true,"gridColor":"#c8c8c8","gridWidth":1,"zindex":0}},
"y":{"field":"y","type":"quantitative","axis":{"orient":"right","values":[-16,-8,0,8],"labels":false,"title":null,"zindex":1}}}},
{"data":{"values":[{}]},"mark":{"type":"rule","color":"#1791cf","strokeWidth":2,"strokeDash":[3,1.5]},"encoding":{"y":{"datum":4.93,"type":"quantitative","axis":null}}},
{"data":{"values":[{}]},"mark":{"type":"rule","color":"#ffa500","strokeWidth":2,"strokeDash":[3,1.5]},"encoding":{"y":{"datum":5.59,"type":"quantitative","axis":null}}},
{"data":{"values":[{}]},"mark":{"type":"rect","fill":"#ffffff","stroke":"#222222","strokeWidth":1},"encoding":{"x":{"datum":6.5,"type":"quantitative","axis":null},"x2":{"datum":14.71},"y":{"datum":-10.7,"type":"quantitative","axis":null},"y2":{"datum":-18.5}}},
{"data":{"values":[{}]},"mark":{"type":"text","align":"right","baseline":"middle","fontSize":12.5,"color":"#000"},"encoding":{"x":{"datum":13.54,"type":"quantitative","axis":null},"y":{"datum":-12.9,"type":"quantitative","axis":null},"text":{"value":"<Fₖ> (forward) = 4.93 pN"}}},
{"data":{"values":[{}]},"mark":{"type":"text","align":"right","baseline":"middle","fontSize":12.5,"color":"#000"},"encoding":{"x":{"datum":13.54,"type":"quantitative","axis":null},"y":{"datum":-16.5,"type":"quantitative","axis":null},"text":{"value":"<Fₖ> (backward) = 5.59 pN"}}},
{"data":{"values":[{}]},"mark":{"type":"rule","color":"#1791cf","strokeWidth":2,"strokeDash":[3,1.5]},"encoding":{"x":{"datum":13.87,"type":"quantitative","axis":null},"x2":{"datum":14.47},"y":{"datum":-12.9,"type":"quantitative","axis":null}}},
{"data":{"values":[{}]},"mark":{"type":"rule","color":"#ffa500","strokeWidth":2,"strokeDash":[3,1.5]},"encoding":{"x":{"datum":13.87,"type":"quantitative","axis":null},"x2":{"datum":14.47},"y":{"datum":-16.5,"type":"quantitative","axis":null}}}
],
"resolve":{"axis":{"x":"independent","y":"independent"}}}
],
"config":{
"font":"DejaVu Sans",
"view":{"stroke":"#404040","strokeWidth":1.6},
"axis":{"domain":false,"grid":false,"labelFont":"DejaVu Sans","labelFontSize":12,"labelColor":"#000000","titleFont":"DejaVu Sans","titleFontSize":12,"titleFontWeight":"normal","titleColor":"#000000","tickColor":"#404040","tickWidth":1,"tickSize":-5,"labelFlush":false,"labelOverlap":false},
"text":{"font":"DejaVu Sans"}
}
}
